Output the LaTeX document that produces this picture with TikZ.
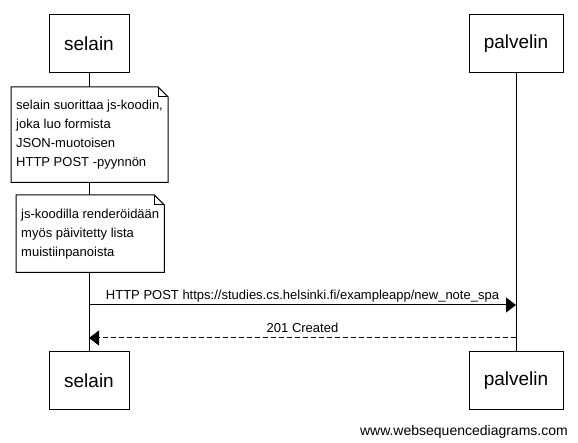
\documentclass[tikz,border=0pt]{standalone}
\usepackage{fontspec}
\setmainfont{Liberation Sans}
\usetikzlibrary{arrows.meta}
\tikzset{
  actor/.style={draw,line width=1pt,fill=white,inner sep=0pt,font=\fontsize{19}{23}\selectfont},
  note/.style={fill=white,anchor=north west,inner xsep=5pt,inner ysep=0pt,align=left,font=\fontsize{13}{19}\selectfont},
  msg/.style={line width=1pt,-{Triangle[length=10pt,width=15pt]}},
  msglabel/.style={midway,anchor=base,yshift=5pt,inner sep=0pt,font=\fontsize{13}{16}\selectfont}
}
\newcommand{\notebox}[1]{%
  \draw[line width=1pt] (#1.north west) -- ([xshift=-10pt]#1.north east) -- ([yshift=-10pt]#1.north east) -- (#1.south east) -- (#1.south west) -- cycle;
  \draw[line width=1pt] ([xshift=-10pt]#1.north east) |- ([yshift=-10pt]#1.north east);}
\begin{document}
\begin{tikzpicture}[x=1pt,y=-1pt]
  \useasboundingbox (0,0) rectangle (578,443);
  \node (selTop) at (89,44) [actor,minimum width=80pt,minimum height=58pt] {selain};
  \node (palTop) at (516,44) [actor,minimum width=94pt,minimum height=58pt] {palvelin};
  \node (selBot) at (89,380.5) [actor,minimum width=80pt,minimum height=57pt] {selain};
  \node (palBot) at (516,380.5) [actor,minimum width=94pt,minimum height=57pt] {palvelin};
  \node (note1) at (11,87) [note,minimum height=95pt] {selain suorittaa js-koodin,\\ joka luo formista\\ JSON-muotoisen\\ HTTP POST -pyynnön};
  \node (note2) at (16,195) [note,minimum height=77pt] {js-koodilla renderöidään\\ myös päivitetty lista\\ muistiinpanoista};
  \notebox{note1}
  \notebox{note2}
  % lifelines
  \draw[line width=1pt] (selTop) -- (selTop |- note1.north);
  \draw[line width=1pt] (selTop |- note1.south) -- (selTop |- note2.north);
  \draw[line width=1pt] (selTop |- note2.south) -- (selBot);
  \draw[line width=1pt] (palTop) -- (palBot);
  \coordinate (postA) at (89,305);
  \coordinate (postB) at (516,305);
  \coordinate (respA) at (516,338);
  \coordinate (respB) at (89,338);
  \draw[msg] (postA) -- (postB) node[msglabel] {HTTP POST https://studies.cs.helsinki.fi/exampleapp/new\_note\_spa};
  \draw[msg,dash pattern=on 5pt off 3pt] (respA) -- (respB) node[msglabel] {201 Created};
  \node (site) at (568,435) [anchor=base east,inner sep=0pt,font=\fontsize{14}{16}\selectfont] {www.websequencediagrams.com};
\end{tikzpicture}
\end{document}
